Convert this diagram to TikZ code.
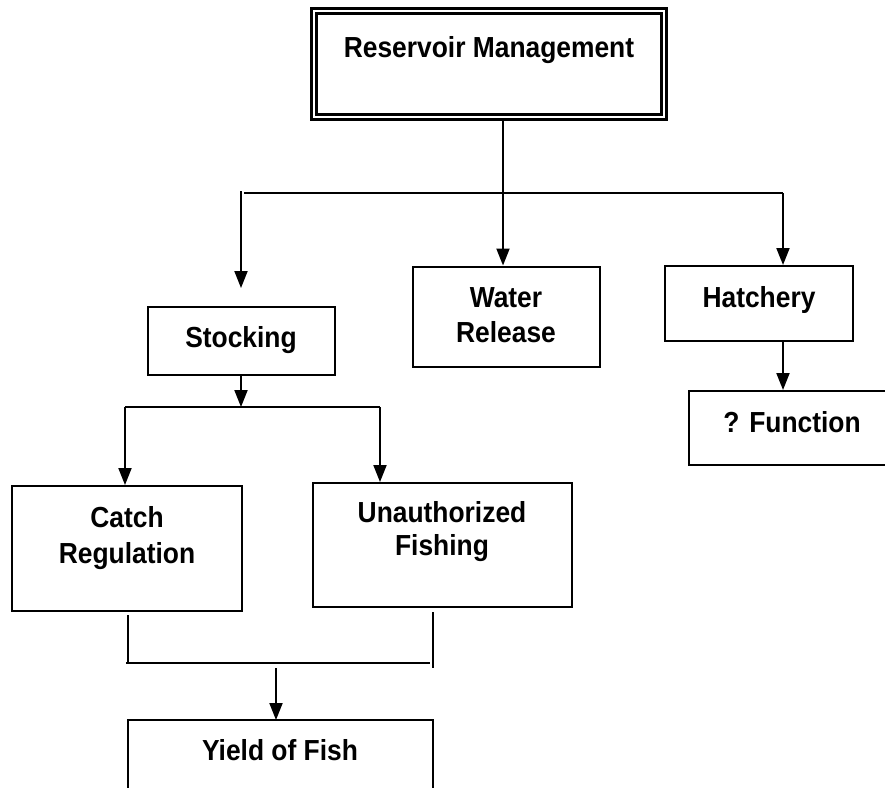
\documentclass[tikz,border=0pt]{standalone}
\usepackage{fontspec}
\setmainfont{Liberation Sans}[FakeStretch=0.91]
\usetikzlibrary{arrows.meta}
\begin{document}
\begin{tikzpicture}[x=1pt,y=-1pt,
  boxstyle/.style={draw=black, line width=2pt, rectangle, inner sep=0pt},
  txt/.style={font=\fontsize{29}{35}\selectfont\bfseries, inner sep=0pt, anchor=base},
  conn/.style={line width=2pt},
  arr/.style={line width=2pt, -{Triangle[length=17pt,width=13pt]}}]
\useasboundingbox (0,0) rectangle (885,787);
% boxes
\node[draw=black, line width=2.8pt, double, double distance=2.4pt, rectangle, inner sep=0pt,
  minimum width=350pt, minimum height=106pt] (rm) at (489,64) {};
\node[boxstyle, minimum width=187pt, minimum height=68pt] (st) at (241.5,341) {};
\node[boxstyle, minimum width=187pt, minimum height=100pt] (wr) at (506.5,316.5) {};
\node[boxstyle, minimum width=188pt, minimum height=75pt] (ha) at (759,303.5) {};
\node[boxstyle, minimum width=210pt, minimum height=74pt] (fn) at (794,428) {};
\node[boxstyle, minimum width=230pt, minimum height=125pt] (cr) at (127,548.5) {};
\node[boxstyle, minimum width=259pt, minimum height=124pt] (uf) at (442.5,545) {};
% yield box (open at the bottom edge of the picture)
\coordinate (yl) at (128,800);
\coordinate (ytl) at (128,720);
\coordinate (ytr) at (433,720);
\coordinate (yr) at (433,800);
\draw[line width=2pt] (yl) -- (ytl) -- (ytr) -- (yr);
% texts
\node[txt] (trm) at (489,57) {Reservoir Management};
\node[txt] (tst) at (241,347) {Stocking};
\node[txt] (twr1) at (506,307) {Water};
\node[txt] (twr2) at (506,342) {Release};
\node[txt] (tha) at (759,307) {Hatchery};
\node[txt] (tfn) at (792,432) {? Function};
\node[txt] (tcr1) at (127,527) {Catch};
\node[txt] (tcr2) at (127,563) {Regulation};
\node[txt] (tuf1) at (442,522) {Unauthorized};
\node[txt] (tuf2) at (442,555) {Fishing};
\node[txt] (tyf) at (280,760) {Yield of Fish};
% connectors from top
\coordinate (j1) at (503,193);
\coordinate (hl) at (244,193);
\coordinate (hr) at (783,193);
\coordinate (ls) at (241,191);
\coordinate (lt) at (241,288);
\draw[conn] (rm.south -| j1) -- (j1);
\draw[conn] (hl) -- (hr);
\draw[arr] (ls) -- (lt);
\draw[arr] (j1) -- (j1 |- wr.north);
\draw[arr] (hr) -- (hr |- ha.north);
\draw[arr] (ha.south -| hr) -- (hr |- fn.north);
% stocking split
\coordinate (j2) at (241,407);
\coordinate (sl) at (125,407);
\coordinate (sr) at (380,407);
\draw[arr] (st.south -| j2) -- (j2);
\draw[conn] (sl) -- (sr);
\draw[arr] (sl) -- (sl |- cr.north);
\draw[arr] (sr) -- (sr |- uf.north);
% merge to yield
\coordinate (ml1) at (128,615);
\coordinate (ml2) at (128,664);
\coordinate (mr1) at (433,612);
\coordinate (mr2) at (433,668);
\coordinate (mh1) at (126,663);
\coordinate (mh2) at (430,663);
\coordinate (my) at (276,668);
\draw[conn] (ml1) -- (ml2);
\draw[conn] (mr1) -- (mr2);
\draw[conn] (mh1) -- (mh2);
\draw[arr] (my) -- (my |- ytl);
\end{tikzpicture}
\end{document}
